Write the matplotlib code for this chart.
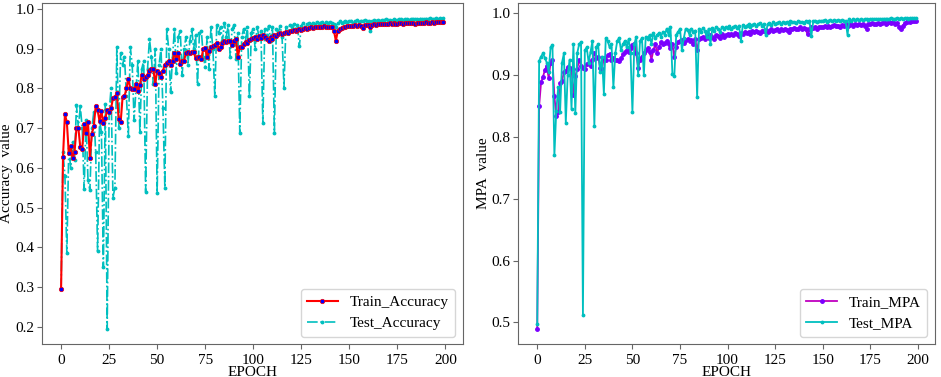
import numpy as np
import matplotlib
matplotlib.use("Agg")
import matplotlib.pyplot as plt

plt.rcParams['font.family'] = 'serif'
plt.rcParams['font.serif'] = ['Liberation Serif', 'DejaVu Serif']
plt.rcParams['font.size'] = 11

# values, one per epoch (0..199)
train_acc = [
    0.295, 0.628, 0.735, 0.715, 0.637, 0.655, 0.625, 0.640, 0.700, 0.700,
    0.652, 0.648, 0.710, 0.688, 0.715, 0.625, 0.685, 0.705, 0.755, 0.745,
    0.718, 0.742, 0.712, 0.725, 0.745, 0.740, 0.750, 0.775, 0.778, 0.788,
    0.723, 0.715, 0.778, 0.780, 0.800, 0.825, 0.800, 0.798, 0.798, 0.810,
    0.793, 0.808, 0.835, 0.825, 0.830, 0.835, 0.845, 0.850, 0.848, 0.812,
    0.845, 0.840, 0.830, 0.845, 0.860, 0.865, 0.870, 0.860, 0.870, 0.890,
    0.875, 0.890, 0.862, 0.870, 0.870, 0.890, 0.892, 0.890, 0.892, 0.892,
    0.876, 0.878, 0.880, 0.875, 0.900, 0.902, 0.878, 0.895, 0.905, 0.908,
    0.910, 0.915, 0.900, 0.905, 0.915, 0.920, 0.918, 0.920, 0.920, 0.910,
    0.920, 0.925, 0.878, 0.905, 0.905, 0.912, 0.918, 0.915, 0.922, 0.925,
    0.928, 0.930, 0.925, 0.932, 0.928, 0.935, 0.930, 0.925, 0.920, 0.930,
    0.925, 0.935, 0.932, 0.938, 0.940, 0.936, 0.940, 0.942, 0.940, 0.945,
    0.944, 0.946, 0.945, 0.948, 0.950, 0.948, 0.950, 0.952, 0.950, 0.953,
    0.955, 0.953, 0.955, 0.956, 0.954, 0.956, 0.955, 0.957, 0.956, 0.955,
    0.954, 0.956, 0.945, 0.920, 0.945, 0.950, 0.953, 0.955, 0.956, 0.957,
    0.958, 0.957, 0.958, 0.959, 0.958, 0.960, 0.958, 0.952, 0.960, 0.961,
    0.960, 0.955, 0.961, 0.962, 0.960, 0.962, 0.963, 0.962, 0.963, 0.963,
    0.962, 0.964, 0.963, 0.964, 0.962, 0.963, 0.964, 0.965, 0.963, 0.964,
    0.965, 0.964, 0.965, 0.966, 0.963, 0.965, 0.966, 0.965, 0.964, 0.966,
    0.967, 0.966, 0.965, 0.967, 0.966, 0.967, 0.968, 0.967, 0.968, 0.968,
]

test_acc = [
    0.295, 0.640, 0.580, 0.385, 0.650, 0.600, 0.665, 0.620, 0.758, 0.700,
    0.755, 0.700, 0.548, 0.720, 0.569, 0.543, 0.700, 0.740, 0.640, 0.390,
    0.720, 0.690, 0.350, 0.760, 0.195, 0.740, 0.800, 0.525, 0.550, 0.905,
    0.700, 0.890, 0.860, 0.880, 0.780, 0.680, 0.905, 0.860, 0.720, 0.800,
    0.870, 0.690, 0.850, 0.870, 0.540, 0.850, 0.925, 0.880, 0.810, 0.900,
    0.537, 0.860, 0.900, 0.750, 0.550, 0.950, 0.900, 0.790, 0.880, 0.950,
    0.840, 0.930, 0.945, 0.835, 0.900, 0.930, 0.860, 0.920, 0.950, 0.900,
    0.935, 0.810, 0.940, 0.945, 0.880, 0.855, 0.930, 0.850, 0.955, 0.900,
    0.780, 0.960, 0.940, 0.955, 0.920, 0.965, 0.930, 0.960, 0.880, 0.950,
    0.960, 0.875, 0.940, 0.688, 0.930, 0.950, 0.920, 0.955, 0.780, 0.940,
    0.950, 0.900, 0.955, 0.930, 0.945, 0.712, 0.950, 0.935, 0.958, 0.920,
    0.955, 0.688, 0.950, 0.940, 0.958, 0.930, 0.802, 0.955, 0.945, 0.960,
    0.955, 0.962, 0.950, 0.960, 0.906, 0.958, 0.965, 0.955, 0.962, 0.965,
    0.960, 0.966, 0.962, 0.968, 0.958, 0.966, 0.968, 0.962, 0.967, 0.966,
    0.968, 0.964, 0.962, 0.955, 0.966, 0.969, 0.965, 0.968, 0.970, 0.967,
    0.969, 0.971, 0.966, 0.970, 0.972, 0.968, 0.971, 0.970, 0.972, 0.969,
    0.971, 0.945, 0.970, 0.973, 0.971, 0.972, 0.970, 0.973, 0.972, 0.974,
    0.972, 0.973, 0.971, 0.974, 0.973, 0.972, 0.974, 0.975, 0.973, 0.974,
    0.975, 0.973, 0.974, 0.976, 0.974, 0.975, 0.973, 0.976, 0.975, 0.974,
    0.976, 0.975, 0.977, 0.975, 0.976, 0.977, 0.975, 0.977, 0.976, 0.977,
]

train_mpa = [
    0.490, 0.850, 0.888, 0.897, 0.908, 0.915, 0.895, 0.920, 0.925, 0.866,
    0.834, 0.840, 0.887, 0.890, 0.905, 0.907, 0.913, 0.912, 0.910, 0.868,
    0.898, 0.910, 0.925, 0.915, 0.912, 0.910, 0.918, 0.920, 0.915, 0.925,
    0.935, 0.928, 0.930, 0.912, 0.910, 0.928, 0.925, 0.932, 0.934, 0.925,
    0.928, 0.925, 0.924, 0.922, 0.927, 0.934, 0.937, 0.940, 0.938, 0.943,
    0.948, 0.951, 0.935, 0.912, 0.925, 0.930, 0.936, 0.940, 0.943, 0.938,
    0.925, 0.940, 0.950, 0.936, 0.945, 0.953, 0.950, 0.952, 0.955, 0.950,
    0.943, 0.950, 0.930, 0.945, 0.953, 0.955, 0.957, 0.952, 0.956, 0.958,
    0.955, 0.957, 0.950, 0.958, 0.940, 0.958, 0.960, 0.962, 0.958, 0.963,
    0.960, 0.964, 0.962, 0.958, 0.965, 0.963, 0.960, 0.966, 0.962, 0.965,
    0.966, 0.964, 0.967, 0.965, 0.968, 0.966, 0.963, 0.968, 0.967, 0.970,
    0.968, 0.970, 0.966, 0.971, 0.969, 0.972, 0.970, 0.968, 0.972, 0.971,
    0.973, 0.970, 0.972, 0.974, 0.971, 0.973, 0.975, 0.972, 0.974, 0.973,
    0.975, 0.973, 0.970, 0.975, 0.974, 0.976, 0.974, 0.975, 0.977, 0.975,
    0.976, 0.974, 0.966, 0.975, 0.977, 0.976, 0.978, 0.975, 0.977, 0.978,
    0.977, 0.979, 0.978, 0.980, 0.978, 0.979, 0.981, 0.979, 0.980, 0.978,
    0.981, 0.979, 0.982, 0.980, 0.981, 0.982, 0.980, 0.982, 0.981, 0.983,
    0.981, 0.982, 0.980, 0.975, 0.982, 0.983, 0.984, 0.982, 0.983, 0.984,
    0.983, 0.984, 0.985, 0.983, 0.984, 0.985, 0.984, 0.985, 0.983, 0.984,
    0.978, 0.975, 0.980, 0.984, 0.986, 0.987, 0.986, 0.987, 0.988, 0.988,
]

test_mpa = [
    0.497, 0.923, 0.930, 0.935, 0.928, 0.920, 0.905, 0.945, 0.948, 0.770,
    0.842, 0.880, 0.840, 0.920, 0.935, 0.823, 0.900, 0.925, 0.845, 0.950,
    0.838, 0.935, 0.950, 0.953, 0.512, 0.940, 0.945, 0.920, 0.938, 0.955,
    0.818, 0.945, 0.950, 0.905, 0.930, 0.870, 0.960, 0.955, 0.945, 0.950,
    0.880, 0.935, 0.955, 0.960, 0.940, 0.950, 0.955, 0.945, 0.958, 0.935,
    0.840, 0.950, 0.962, 0.900, 0.955, 0.960, 0.900, 0.962, 0.958, 0.965,
    0.950, 0.968, 0.960, 0.965, 0.968, 0.962, 0.970, 0.965, 0.975, 0.965,
    0.978, 0.902, 0.898, 0.965, 0.970, 0.975, 0.940, 0.960, 0.975, 0.973,
    0.965, 0.975, 0.970, 0.972, 0.864, 0.975, 0.970, 0.976, 0.972, 0.962,
    0.975, 0.950, 0.976, 0.972, 0.978, 0.975, 0.970, 0.977, 0.975, 0.978,
    0.976, 0.979, 0.975, 0.978, 0.979, 0.976, 0.980, 0.955, 0.981, 0.978,
    0.980, 0.982, 0.977, 0.981, 0.983, 0.979, 0.982, 0.984, 0.980, 0.983,
    0.965, 0.982, 0.984, 0.981, 0.985, 0.983, 0.984, 0.986, 0.982, 0.985,
    0.984, 0.986, 0.983, 0.987, 0.985, 0.986, 0.984, 0.987, 0.985, 0.986,
    0.984, 0.987, 0.986, 0.988, 0.963, 0.987, 0.988, 0.986, 0.988, 0.987,
    0.988, 0.989, 0.986, 0.988, 0.989, 0.987, 0.989, 0.988, 0.989, 0.988,
    0.989, 0.988, 0.987, 0.965, 0.990, 0.988, 0.990, 0.989, 0.990, 0.989,
    0.990, 0.989, 0.990, 0.991, 0.989, 0.990, 0.991, 0.990, 0.991, 0.990,
    0.991, 0.990, 0.991, 0.991, 0.990, 0.991, 0.992, 0.991, 0.991, 0.992,
    0.991, 0.992, 0.991, 0.992, 0.992, 0.991, 0.992, 0.992, 0.992, 0.992,
]

epochs = np.arange(len(train_acc))

fig = plt.figure(figsize=(9.41, 3.77), dpi=100)
ax1 = fig.add_axes([0.0446, 0.087, 0.447, 0.906])
ax2 = fig.add_axes([0.5508, 0.087, 0.4428, 0.906])

ax1.plot(epochs, test_acc, color='c', linestyle='-.', linewidth=1.2,
         marker='.', markersize=3.5, label='Test_Accuracy')
ax1.plot(epochs, train_acc, color='r', linestyle='-', linewidth=1.5,
         marker='o', markersize=3.2, markerfacecolor='b', markeredgecolor='r',
         markeredgewidth=0.5, label='Train_Accuracy', zorder=3)
ax1.set_xlabel('EPOCH')
ax1.set_ylabel('Accuracy  value')
ax1.xaxis.set_label_coords(0.5, -0.063)
ax1.yaxis.set_label_coords(-0.069, 0.5)
h, l = ax1.get_legend_handles_labels()
ax1.legend(h[::-1], l[::-1], loc='lower right', fontsize=11)

ax2.plot(epochs, train_mpa, color='m', linestyle='-', linewidth=1.3,
         marker='.', markersize=5, markerfacecolor='#7a00ff', markeredgecolor='#7a00ff',
         label='Train_MPA')
ax2.plot(epochs, test_mpa, color='c', linestyle='-', linewidth=1.3,
         marker='.', markersize=3.5, label='Test_MPA')
ax2.set_xlabel('EPOCH')
ax2.set_ylabel('MPA  value')
ax2.xaxis.set_label_coords(0.5, -0.063)
ax2.yaxis.set_label_coords(-0.069, 0.5)
ax2.legend(loc='lower right', fontsize=11)

for ax in (ax1, ax2):
    ax.set_xticks([0, 25, 50, 75, 100, 125, 150, 175, 200])
    for s in ax.spines.values():
        s.set_color('#666666')
    ax.tick_params(color='#666666', labelsize=11)
    ax.tick_params(axis='y', pad=2)

fig.savefig('out.png', dpi=100)
